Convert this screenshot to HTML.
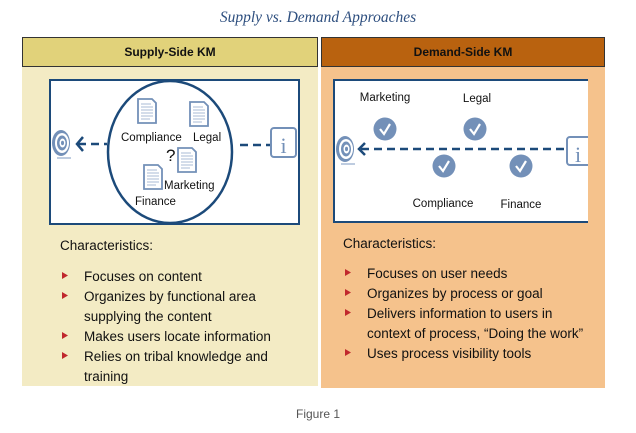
<!DOCTYPE html>
<html><head><meta charset="utf-8"><style>
html,body{margin:0;padding:0;background:#fff;}
svg{display:block;}
text{font-family:"Liberation Sans",sans-serif;}
</style></head><body>
<svg width="636" height="433" viewBox="0 0 636 433" xmlns="http://www.w3.org/2000/svg">
<defs>
<g id="doc"><path d="M0,0 H14 L18,4 V24 H0 Z" fill="#fff" stroke="#7390b8" stroke-width="1.8"/><path d="M3,5H13M3,8H15M3,11H15M3,14H15M3,17H15M3,20H12" stroke="#a9bbd6" stroke-width="1"/></g>
<g id="chk"><circle r="11.5" fill="#7390b8"/><path d="M-5,0 L-1,5 L5,-5" fill="none" stroke="#fff" stroke-width="2.2"/></g>
<g id="tgt"><ellipse cx="0" cy="0" rx="9" ry="13" fill="#7390b8"/><ellipse cx="1" cy="0" rx="7" ry="10" fill="#fff"/><ellipse cx="1" cy="0" rx="5" ry="7.5" fill="#7390b8"/><ellipse cx="1.5" cy="0" rx="3" ry="4.5" fill="#fff"/><ellipse cx="1.5" cy="0" rx="1.5" ry="2.2" fill="#7390b8"/><path d="M-4,15H10" stroke="#a9bbd6" stroke-width="1.5"/></g>
</defs>
<text x="318" y="22" text-anchor="middle" font-style="italic" font-size="15.5" fill="#2e4f7f" style="font-family:'Liberation Serif',serif">Supply vs. Demand Approaches</text>

<!-- left panel -->
<rect x="22" y="66" width="296" height="320" fill="#f3ebc4"/>
<rect x="22.5" y="37.5" width="295" height="29" fill="#e1d27a" stroke="#333" stroke-width="1"/>
<text x="170" y="56" text-anchor="middle" font-size="12" font-weight="bold" fill="#111">Supply-Side KM</text>
<rect x="50" y="80" width="249" height="144" fill="#fff" stroke="#1c4a7a" stroke-width="2"/>
<ellipse cx="170" cy="152" rx="62" ry="71" fill="#fff" stroke="#1c4a7a" stroke-width="2.5"/>
<use href="#tgt" x="61" y="143"/>
<path d="M83,137 L77,144 L83,151" fill="none" stroke="#1c4a7a" stroke-width="2.5"/>
<path d="M78,144H107" stroke="#1c4a7a" stroke-width="2.5" stroke-dasharray="8,5"/>
<path d="M240,145H270" stroke="#1c4a7a" stroke-width="2.5" stroke-dasharray="8,5"/>
<rect x="271" y="128" width="25" height="29" rx="3" fill="#fff" stroke="#7390b8" stroke-width="2"/>
<text x="283.5" y="153" text-anchor="middle" font-size="22" fill="#7390b8" style="font-family:'Liberation Serif',serif">i</text>
<use href="#doc" x="138" y="99"/>
<use href="#doc" x="190" y="102"/>
<use href="#doc" x="178" y="148"/>
<use href="#doc" x="144" y="165"/>
<text x="121" y="141" font-size="11.5" fill="#111">Compliance</text>
<text x="193" y="141" font-size="11.5" fill="#111">Legal</text>
<text x="166" y="161" font-size="17" fill="#111">?</text>
<text x="164" y="189" font-size="11.5" fill="#111">Marketing</text>
<text x="135" y="205" font-size="11.5" fill="#111">Finance</text>

<g font-size="13.5" fill="#111">
<text x="60" y="250">Characteristics:</text>
<text x="84" y="281">Focuses on content</text>
<text x="84" y="301">Organizes by functional area</text>
<text x="84" y="321">supplying the content</text>
<text x="84" y="341">Makes users locate information</text>
<text x="84" y="361">Relies on tribal knowledge and</text>
<text x="84" y="381">training</text>
</g>
<g fill="#c0282d">
<path d="M62,272l6,3.5l-6,3.5z"/><path d="M62,292l6,3.5l-6,3.5z"/><path d="M62,332l6,3.5l-6,3.5z"/><path d="M62,352l6,3.5l-6,3.5z"/>
</g>

<!-- right panel -->
<rect x="321" y="66" width="284" height="322" fill="#f5c28c"/>
<rect x="321.5" y="37.5" width="283" height="29" fill="#b9620f" stroke="#333" stroke-width="1"/>
<text x="463" y="56" text-anchor="middle" font-size="12" font-weight="bold" fill="#111">Demand-Side KM</text>
<rect x="334" y="80" width="254" height="142" fill="#fff"/>
<path d="M588,80H334V222H588" fill="none" stroke="#1c4a7a" stroke-width="2"/>
<use href="#tgt" x="345" y="149"/>
<path d="M365,143 L359,149 L365,155" fill="none" stroke="#1c4a7a" stroke-width="2.5"/>
<path d="M361,149H566" stroke="#1c4a7a" stroke-width="2.5" stroke-dasharray="8,5"/>
<path d="M588,137H570a3,3 0 0 0 -3,3V162a3,3 0 0 0 3,3H588" fill="#fff" stroke="#7390b8" stroke-width="2"/>
<text x="578" y="162" text-anchor="middle" font-size="22" fill="#7390b8" style="font-family:'Liberation Serif',serif">i</text>
<use href="#chk" x="385" y="129"/>
<use href="#chk" x="475" y="129"/>
<use href="#chk" x="444" y="166"/>
<use href="#chk" x="521" y="166"/>
<g font-size="11.5" fill="#111" text-anchor="middle">
<text x="385" y="101">Marketing</text>
<text x="477" y="102">Legal</text>
<text x="443" y="207">Compliance</text>
<text x="521" y="208">Finance</text>
</g>
<g font-size="13.5" fill="#111">
<text x="343" y="248">Characteristics:</text>
<text x="367" y="278">Focuses on user needs</text>
<text x="367" y="298">Organizes by process or goal</text>
<text x="367" y="318">Delivers information to users in</text>
<text x="367" y="338">context of process, “Doing the work”</text>
<text x="367" y="358">Uses process visibility tools</text>
</g>
<g fill="#c0282d">
<path d="M345,269l6,3.5l-6,3.5z"/><path d="M345,289l6,3.5l-6,3.5z"/><path d="M345,309l6,3.5l-6,3.5z"/><path d="M345,349l6,3.5l-6,3.5z"/>
</g>

<text x="318" y="418" text-anchor="middle" font-size="12" fill="#555">Figure 1</text>
</svg>
</body></html>
